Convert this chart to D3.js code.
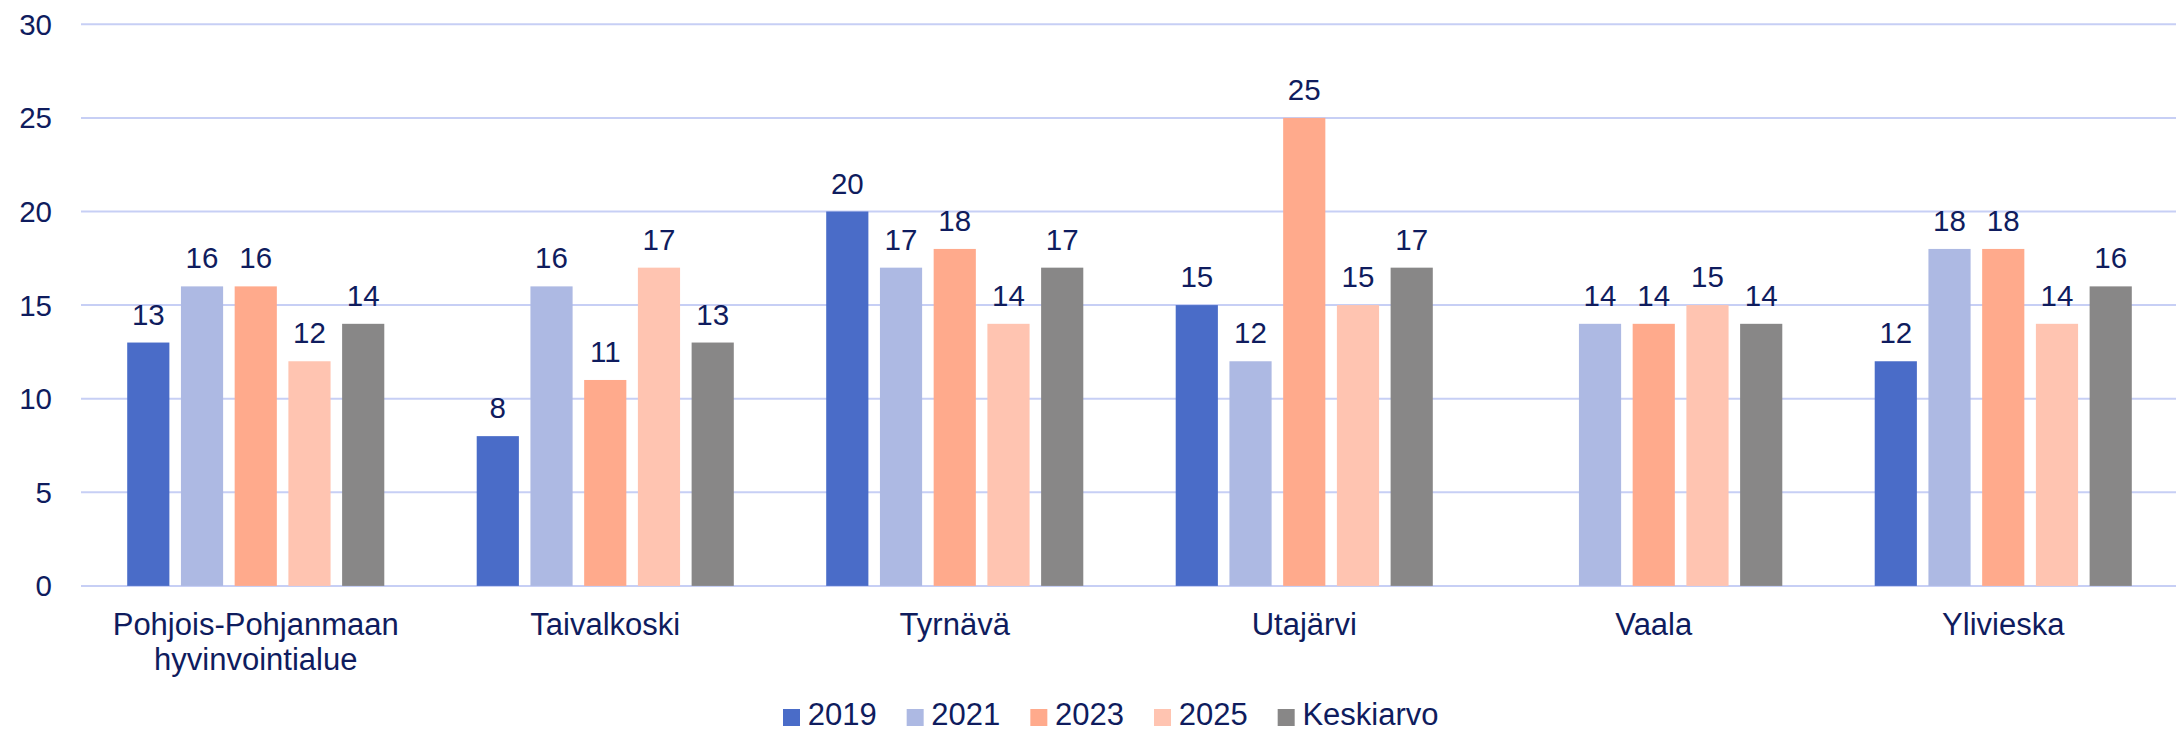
<!DOCTYPE html>
<html>
<head>
<meta charset="utf-8">
<script src="https://cdn.jsdelivr.net/npm/d3@7"></script>
<style>
  html, body { margin: 0; padding: 0; background: #fff; }
  svg { display: block; font-family: "Liberation Sans", Arial, sans-serif; }
</style>
</head>
<body>
<svg width="2176" height="732"></svg>
<script>
// data
const kunnat = ["Pohjois-Pohjanmaan hyvinvointialue", "Taivalkoski", "Tyrnävä", "Utajärvi", "Vaala", "Ylivieska"];
const sarjat = ["2019", "2021", "2023", "2025", "Keskiarvo"];
const v2019 = [13, 8, 20, 15, null, 12];
const v2021 = [16, 16, 17, 12, 14, 18];
const v2023 = [16, 11, 18, 25, 14, 18];
const v2025 = [12, 17, 14, 15, 15, 14];
const keskiarvo = [14, 13, 17, 17, 14, 16];
const yTicks = [0, 5, 10, 15, 20, 25, 30];

const arvot = [v2019, v2021, v2023, v2025, keskiarvo];
const varit = ["#4a6cc8", "#adb9e3", "#ffaa8c", "#ffc4b1", "#888787"];
const tekstiVari = "#0f1c5e";

const svg = d3.select("svg");
const vasen = 81, oikea = 2178, yla = 24.3, ala = 585.9;

const x0 = d3.scaleBand().domain(kunnat).range([vasen, oikea]).padding(0);
const x1 = d3.scaleBand().domain(sarjat).range([0, x0.bandwidth()])
    .paddingInner(0.215).paddingOuter(0.86);
const y = d3.scaleLinear().domain([0, 30]).range([ala, yla]);

// gridlines
svg.append("g").selectAll("line")
    .data(yTicks)
    .enter()
    .append("line")
    .attr("x1", vasen)
    .attr("x2", 2176)
    .attr("y1", d => y(d))
    .attr("y2", d => y(d))
    .attr("stroke", "#c7cff5")
    .attr("stroke-width", 2);

// y akselin tekstit
svg.append("g").selectAll("text")
    .data(yTicks)
    .enter()
    .append("text")
    .attr("x", 52)
    .attr("y", d => y(d) + 10.5)
    .attr("text-anchor", "end")
    .attr("font-size", 29.5)
    .attr("fill", tekstiVari)
    .text(d => d);

// pylväät
const ryhmat = svg.append("g").selectAll("g")
    .data(kunnat)
    .enter()
    .append("g")
    .attr("transform", d => `translate(${x0(d)},0)`);

const pylvaat = ryhmat.selectAll("g")
    .data((d, i) => sarjat.map((s, j) => ({sarja: s, arvo: arvot[j][i], vari: varit[j]})).filter(e => e.arvo !== null))
    .enter()
    .append("g");

pylvaat.append("rect")
    .attr("x", d => x1(d.sarja))
    .attr("width", x1.bandwidth())
    .attr("y", d => y(d.arvo))
    .attr("height", d => y(0) - y(d.arvo))
    .attr("fill", d => d.vari);

pylvaat.append("text")
    .attr("x", d => x1(d.sarja) + x1.bandwidth() / 2)
    .attr("y", d => y(d.arvo) - 18)
    .attr("text-anchor", "middle")
    .attr("font-size", 29.5)
    .attr("fill", tekstiVari)
    .text(d => d.arvo);

// kategoriat
const kategoriat = svg.append("g").selectAll("text")
    .data(kunnat)
    .enter()
    .append("text")
    .attr("text-anchor", "middle")
    .attr("font-size", 31)
    .attr("fill", tekstiVari);

kategoriat.each(function (d) {
    const cx = x0(d) + x0.bandwidth() / 2;
    const rivit = d === "Pohjois-Pohjanmaan hyvinvointialue" ? ["Pohjois-Pohjanmaan", "hyvinvointialue"] : [d];
    rivit.forEach((r, i) => {
        d3.select(this).append("tspan")
            .attr("x", cx)
            .attr("y", 635 + i * 35)
            .text(r);
    });
});

// selite
const selite = svg.append("g");
let lx = 783;
sarjat.forEach((s, i) => {
    selite.append("rect")
        .attr("x", lx)
        .attr("y", 709)
        .attr("width", 17)
        .attr("height", 17)
        .attr("fill", varit[i]);
    const t = selite.append("text")
        .attr("x", lx + 24.7)
        .attr("y", 725)
        .attr("font-size", 31)
        .attr("fill", tekstiVari)
        .text(s);
    lx += 24.7 + t.node().getComputedTextLength() + 30;
});
</script>
</body>
</html>
